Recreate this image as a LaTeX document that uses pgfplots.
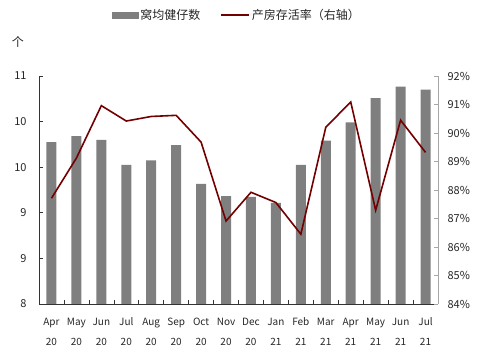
\documentclass[border=0pt]{standalone}
\usepackage{pgfplots}
\pgfplotsset{compat=1.18}
\usepackage{fontspec}
\setmainfont{Noto Sans CJK SC}
\definecolor{bargray}{HTML}{7F7F7F}
\definecolor{linered}{HTML}{720000}
\newcommand{\tl}[2]{\strut #1\\\strut #2}
\begin{document}
\begin{tikzpicture}
\path[use as bounding box] (-39pt,-51pt) rectangle (447pt,304pt);
\begin{axis}[
  at={(0,0)}, anchor=south west, scale only axis, width=399pt, height=228pt,
  xmin=-0.5, xmax=15.5, ymin=8, ymax=11,
  axis x line*=bottom, axis y line*=left,
  axis line style={-, draw=black!80, line width=0.8pt},
  ytick={8,8.6,9.2,9.8,10.4,11},
  yticklabels={8,9,9,10,10,11},
  xtick={0,...,15},
  xticklabels={\tl{Apr}{20},\tl{May}{20},\tl{Jun}{20},\tl{Jul}{20},\tl{Aug}{20},\tl{Sep}{20},\tl{Oct}{20},\tl{Nov}{20},\tl{Dec}{20},\tl{Jan}{21},\tl{Feb}{21},\tl{Mar}{21},\tl{Apr}{21},\tl{May}{21},\tl{Jun}{21},\tl{Jul}{21}},
  minor xtick={-0.5,0.5,...,15.5},
  xtick style={draw=none},
  minor tick length=4pt,
  major tick length=4pt,
  tick align=inside,
  ytick style={draw=black!80, line width=0.6pt},
  minor x tick style={draw=black!80, line width=0.6pt},
  xticklabel style={align=center, font=\fontsize{10}{20}\selectfont, text=black!85, yshift=-4pt},
  yticklabel style={font=\fontsize{11}{13}\selectfont, text=black!85, xshift=-9pt},
  /pgf/number format/assume math mode=true,
]
\addplot[ybar, bar width=10pt, fill=bargray, draw=none] coordinates {
 (0,10.13) (1,10.21) (2,10.16) (3,9.83) (4,9.89) (5,10.09) (6,9.58) (7,9.42)
 (8,9.41) (9,9.33) (10,9.83) (11,10.15) (12,10.39) (13,10.71) (14,10.86) (15,10.82)};
\end{axis}
\begin{axis}[
  at={(0,0)}, anchor=south west, scale only axis, width=399pt, height=228pt,
  xmin=-0.5, xmax=15.5, ymin=84, ymax=92,
  axis x line=none, axis y line*=right,
  axis line style={-, draw=black!35, line width=0.8pt},
  ytick={84,85,...,92},
  yticklabel={\pgfmathprintnumber{\tick}\%},
  major tick length=4pt,
  tick align=inside,
  ytick style={draw=black!35, line width=0.6pt},
  yticklabel style={font=\fontsize{11}{13}\selectfont, text=black!85, xshift=6pt},
  /pgf/number format/assume math mode=true,
  legend columns=2,
  legend style={at={(0.496,1.268)}, anchor=center, draw=none, fill=none,
    font=\fontsize{12}{14}\selectfont, text=black!85,
    /tikz/every even column/.append style={column sep=18pt}},
]
\addlegendimage{legend image code/.code={\fill[bargray] (0pt,-3pt) rectangle (26pt,3pt);}}
\addlegendentry{窝均健仔数}
\addplot[linered, line width=1.6pt, line join=miter,
  legend image code/.code={\draw[linered, line width=1.6pt] (0pt,0pt) -- (28pt,0pt);}] coordinates {
 (0,87.71) (1,89.12) (2,90.96) (3,90.42) (4,90.58) (5,90.62) (6,89.68) (7,86.91)
 (8,87.92) (9,87.56) (10,86.45) (11,90.20) (12,91.09) (13,87.29) (14,90.45) (15,89.32)};
\addlegendentry{产房存活率（右轴）}
\end{axis}
\node[font=\fontsize{12}{14}\selectfont, text=black!85] at (-21pt,262pt) {个};
\end{tikzpicture}
\end{document}
